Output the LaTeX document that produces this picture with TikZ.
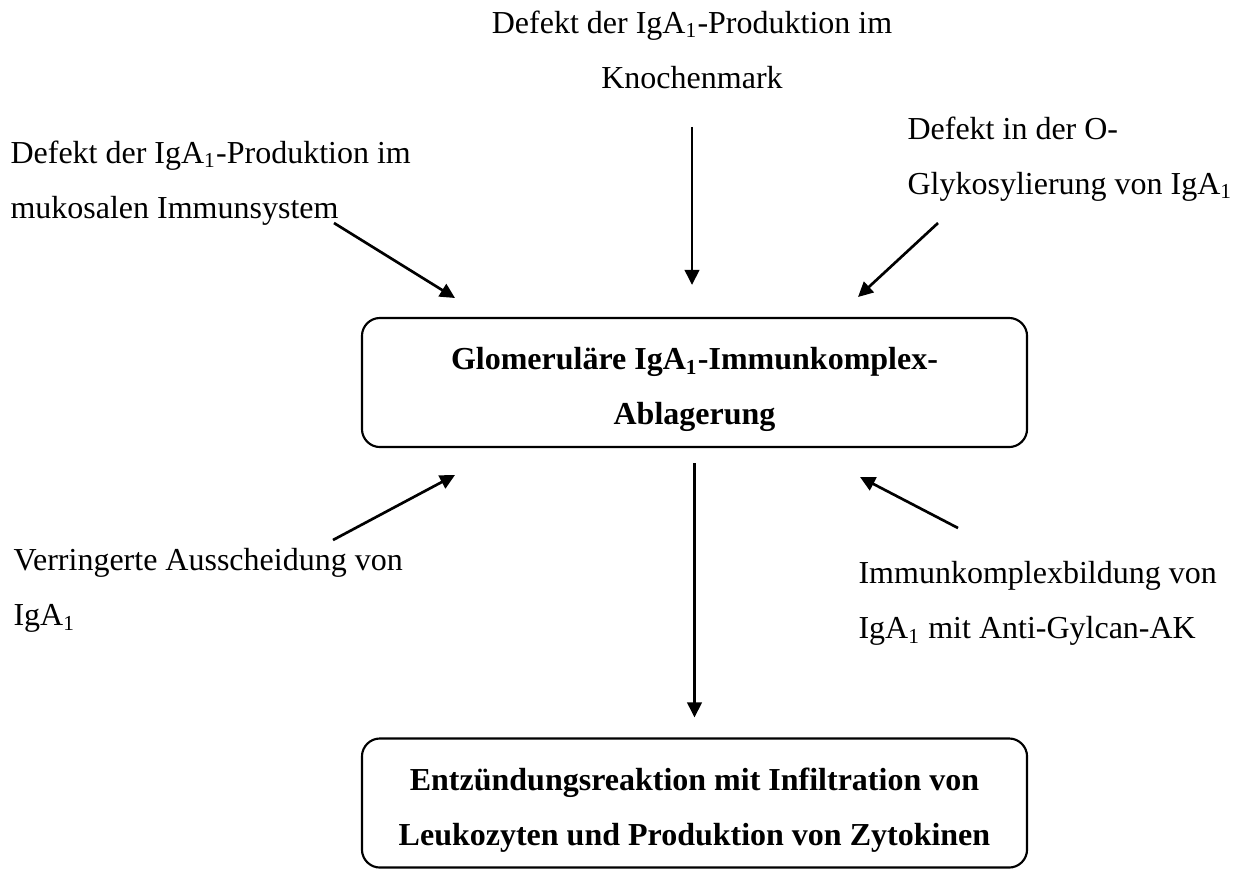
\documentclass[tikz,border=0pt]{standalone}
\usepackage{fontspec}
\setmainfont{Liberation Serif}
\usetikzlibrary{arrows.meta}

\newcommand{\IgAeins}{IgA\textsubscript{1}}
\newcommand{\hoch}{\rule{0pt}{13.5pt}}

\tikzset{
	txt/.style={inner sep=0pt, align=left, font=\fontsize{12pt}{20.6pt}\selectfont},
	kasten/.style={draw, rounded corners=6.75pt, line width=0.8pt, minimum width=249.4pt, minimum height=48.4pt, align=center, font=\fontsize{12pt}{20.6pt}\selectfont\bfseries},
	pfeil/.style={-{Triangle[length=5.6pt,width=5.4pt]}, line width=1pt}
}

\begin{document}
\begin{tikzpicture}[x=0.375pt,y=-0.375pt]
	\useasboundingbox (0,0) rectangle (1235,872);
	
	\node[kasten] (glom) at (694.5,382.5) {\hoch Glomeruläre \IgAeins-Immunkomplex-\\Ablagerung};
	\node[kasten] (entz) at (694.5,803) {\hoch Entzündungsreaktion mit Infiltration von\\Leukozyten und Produktion von Zytokinen};
	
	\node[txt, align=center, anchor=north] (knochen) at (692,10) {Defekt der \IgAeins-Produktion im\\Knochenmark};
	\node[txt, anchor=north west] (mukosal) at (10,140) {Defekt der \IgAeins-Produktion im\\mukosalen Immunsystem};
	\node[txt, anchor=north west] (glyko) at (907,116) {Defekt in der O-\\Glykosylierung von \IgAeins};
	\node[txt, anchor=north west] (aussch) at (13,548) {Verringerte Ausscheidung von\\\IgAeins};
	\node[txt, anchor=north west] (bildung) at (858,561) {Immunkomplexbildung von\\\IgAeins{} mit Anti-Gylcan-AK};
	
	\coordinate (mukA) at (334,223);
	\coordinate (mukB) at (455,298);
	\coordinate (glykA) at (938,223);
	\coordinate (glykB) at (858,297);
	\coordinate (ausA) at (333,540);
	\coordinate (ausB) at (455,475);
	\coordinate (bildA) at (958,528);
	\coordinate (bildB) at (860,477);
	
	\draw[pfeil, shorten <=14.25pt, shorten >=12pt] (knochen.south) -- (knochen.south |- glom.north);
	\draw[pfeil] (mukA) -- (mukB);
	\draw[pfeil] (glykA) -- (glykB);
	\draw[pfeil] (ausA) -- (ausB);
	\draw[pfeil] (bildA) -- (bildB);
	\draw[pfeil, shorten <=5.6pt, shorten >=7.5pt] (glom.south) -- (entz.north);
	
\end{tikzpicture}
\end{document}
